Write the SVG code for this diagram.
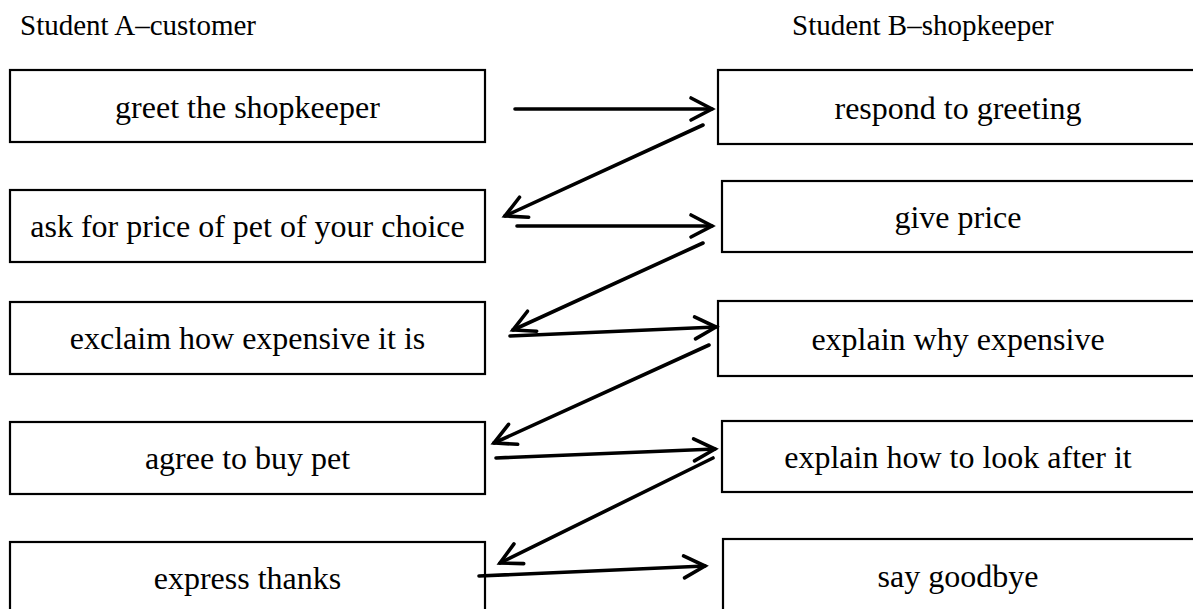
<svg xmlns="http://www.w3.org/2000/svg" width="1193" height="609" viewBox="0 0 1193 609">
<style>
.box{fill:#fff;stroke:#000;stroke-width:2.2}
.t{font-family:"Liberation Serif","Times New Roman",serif;font-size:32px;fill:#000;text-anchor:middle}
.h{font-family:"Liberation Serif","Times New Roman",serif;font-size:29px;fill:#000}
.c{fill:none;stroke:#000;stroke-width:3.6;stroke-linecap:round;marker-end:url(#ah)}
</style>
<defs>
<marker id="ah" markerUnits="userSpaceOnUse" viewBox="-26 -16 30 32" refX="0" refY="0" markerWidth="30" markerHeight="32" orient="auto" overflow="visible">
<path d="M-21,-11 L0,0 L-21,11" fill="none" stroke="#000" stroke-width="3.6" stroke-linecap="round" stroke-linejoin="miter"/>
</marker>
</defs>
<rect width="1193" height="609" fill="#fff"/>
<text class="h" x="20" y="35">Student A–customer</text>
<text class="h" x="792" y="35">Student B–shopkeeper</text>

<g id="a1"><rect class="box" x="10" y="70" width="475" height="72"/><text class="t" x="247.5" y="118">greet the shopkeeper</text></g>
<g id="a2"><rect class="box" x="10" y="190" width="475" height="72"/><text class="t" x="247.5" y="237">ask for price of pet of your choice</text></g>
<g id="a3"><rect class="box" x="10" y="302" width="475" height="72"/><text class="t" x="247.5" y="349">exclaim how expensive it is</text></g>
<g id="a4"><rect class="box" x="10" y="422" width="475" height="72"/><text class="t" x="247.5" y="469">agree to buy pet</text></g>
<g id="a5"><rect class="box" x="10" y="542" width="475" height="80"/><text class="t" x="247.5" y="589">express thanks</text></g>

<g id="b1"><rect class="box" x="718" y="70" width="490" height="74"/><text class="t" x="958" y="119">respond to greeting</text></g>
<g id="b2"><rect class="box" x="722" y="181" width="490" height="71"/><text class="t" x="958" y="228">give price</text></g>
<g id="b3"><rect class="box" x="718" y="301" width="490" height="75"/><text class="t" x="958" y="350">explain why expensive</text></g>
<g id="b4"><rect class="box" x="722" y="421" width="490" height="71"/><text class="t" x="958" y="468">explain how to look after it</text></g>
<g id="b5"><rect class="box" x="723" y="539" width="490" height="80"/><text class="t" x="958" y="587">say goodbye</text></g>

<g id="connectors">
<line class="c" x1="515" y1="109" x2="712" y2="109"/>
<line class="c" x1="703" y1="125" x2="505" y2="216"/>
<line class="c" x1="517" y1="226" x2="712" y2="226"/>
<line class="c" x1="703" y1="243" x2="513" y2="330"/>
<line class="c" x1="510" y1="336" x2="716" y2="327"/>
<line class="c" x1="709" y1="345" x2="494" y2="443"/>
<line class="c" x1="496" y1="458" x2="715" y2="449"/>
<line class="c" x1="713" y1="458" x2="500" y2="563"/>
<line class="c" x1="479" y1="576" x2="705" y2="566"/>
</g>
</svg>
